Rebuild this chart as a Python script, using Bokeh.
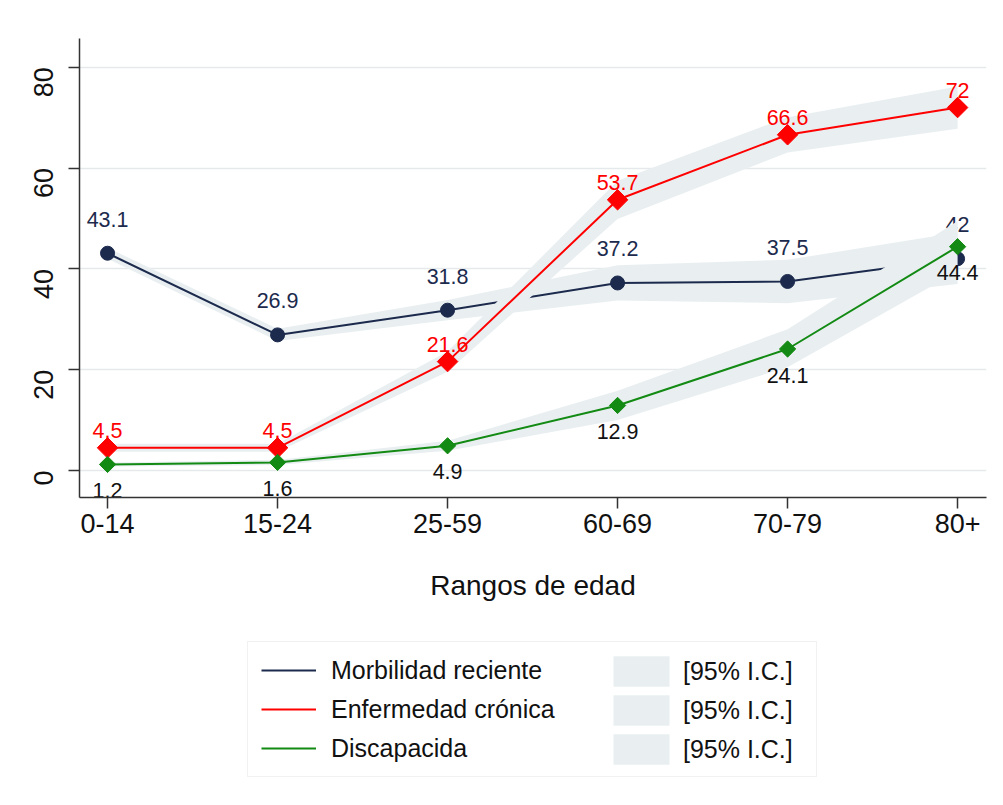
import math

from bokeh.core.properties import value
from bokeh.embed import file_html
from bokeh.layouts import column
from bokeh.models import FixedTicker, Legend, LegendItem, Range1d
from bokeh.plotting import figure
from bokeh.resources import INLINE

# --- data -----------------------------------------------------------------
age_groups = ["0-14", "15-24", "25-59", "60-69", "70-79", "80+"]

morbilidad = [43.1, 26.9, 31.8, 37.2, 37.5, 42]
morbilidad_lo = [42.0, 25.7, 29.8, 33.7, 33.2, 37.0]
morbilidad_hi = [44.2, 28.1, 33.8, 40.7, 41.8, 47.2]

cronica = [4.5, 4.5, 21.6, 53.7, 66.6, 72]
cronica_lo = [3.7, 3.7, 19.6, 49.9, 63.1, 67.8]
cronica_hi = [5.3, 5.3, 23.6, 57.5, 70.1, 76.2]

discapacidad = [1.2, 1.6, 4.9, 12.9, 24.1, 44.4]
discapacidad_lo = [0.8, 1.1, 3.9, 10.0, 20.5, 39.5]
discapacidad_hi = [1.6, 2.1, 5.9, 15.8, 28.0, 49.5]

y_ticks = [0, 20, 40, 60, 80]

series_names = ["Morbilidad reciente", "Enfermedad crónica", "Discapacida"]
ci_label = "[95% I.C.]"
x_title = "Rangos de edad"

# --- style ----------------------------------------------------------------
FONT = "Liberation Sans"
NAVY = "#1c2a4d"
RED = "#ff0000"
GREEN = "#138a13"
BAND = "#e9eff1"
AXIS = "#333333"
TEXT = "#111111"

xs = list(range(len(age_groups)))

p = figure(
    width=1003, height=630,
    x_range=Range1d(-0.165, 5.17), y_range=Range1d(-5.36, 85.7),
    toolbar_location=None, output_backend="svg",
    min_border_left=79, min_border_right=17,
    min_border_top=38, min_border_bottom=133,
)
p.outline_line_color = None
p.background_fill_color = "white"
p.border_fill_color = "white"

p.xgrid.visible = False
p.ygrid.ticker = FixedTicker(ticks=y_ticks)
p.ygrid.grid_line_color = "#e6e9eb"
p.ygrid.grid_line_width = 1.5

p.xaxis.ticker = FixedTicker(ticks=xs)
p.xaxis.major_label_overrides = {i: lab for i, lab in enumerate(age_groups)}
p.yaxis.ticker = FixedTicker(ticks=y_ticks)
p.yaxis.major_label_orientation = math.pi / 2

for ax in (p.xaxis[0], p.yaxis[0]):
    ax.axis_line_color = AXIS
    ax.axis_line_width = 1.5
    ax.major_tick_line_color = AXIS
    ax.major_tick_line_width = 1.5
    ax.major_tick_in = 0
    ax.major_tick_out = 11
    ax.minor_tick_line_color = None
    ax.major_label_text_font = FONT
    ax.major_label_text_font_size = "27px"
    ax.major_label_text_color = TEXT

p.xaxis.major_label_standoff = 5
p.yaxis.major_label_standoff = 25

p.xaxis.axis_label = x_title
p.xaxis.axis_label_text_font = FONT
p.xaxis.axis_label_text_font_size = "28px"
p.xaxis.axis_label_text_font_style = "normal"
p.xaxis.axis_label_text_color = TEXT
p.xaxis.axis_label_standoff = 34

# each series: band, connecting line, markers, value labels
series = [
    dict(vals=morbilidad, lo=morbilidad_lo, hi=morbilidad_hi, color=NAVY,
         marker="circle", size=14, angle=0, label_color=NAVY, offset=-34),
    dict(vals=cronica, lo=cronica_lo, hi=cronica_hi, color=RED,
         marker="square", size=14.5, angle=math.pi / 4, label_color=RED, offset=-17),
    dict(vals=discapacidad, lo=discapacidad_lo, hi=discapacidad_hi, color=GREEN,
         marker="square", size=11.5, angle=math.pi / 4, label_color=TEXT, offset=26),
]

for s in series:
    p.varea(x=xs, y1=s["lo"], y2=s["hi"], fill_color=BAND, fill_alpha=1.0)
    p.line(xs, s["vals"], line_color=s["color"], line_width=2)
    p.scatter(xs, s["vals"], marker=s["marker"], size=s["size"], angle=s["angle"],
              fill_color=s["color"], line_color=s["color"], line_width=1)
    p.text(xs, s["vals"], text=[f"{v:g}" for v in s["vals"]],
           text_font=value(FONT), text_font_size="21.5px",
           text_color=s["label_color"], text_align="center",
           text_baseline="middle", y_offset=s["offset"])

# --- legend panel ---------------------------------------------------------
lf = figure(
    width=1003, height=175,
    x_range=Range1d(0, 1), y_range=Range1d(0, 1),
    x_axis_type=None, y_axis_type=None,
    toolbar_location=None, output_backend="svg", min_border=0,
)
lf.grid.visible = False
lf.outline_line_color = None
lf.background_fill_color = "white"
lf.border_fill_color = "white"

# hidden copies of the series, used only as legend keys
key_lines = [
    lf.line(xs, s["vals"], line_color=s["color"], line_width=2, visible=False)
    for s in series
]
key_bands = [
    lf.varea(x=xs, y1=s["lo"], y2=s["hi"], fill_color=BAND, visible=False)
    for s in series
]

common = dict(
    orientation="vertical", margin=0,
    label_text_font=FONT, label_text_font_size="25px", label_text_color=TEXT,
    label_text_baseline="middle", inactive_fill_alpha=0,
)

# the legend frame shares the main plot's left edge (x = 79 on the page)
leg_lines = Legend(
    items=[LegendItem(label=n, renderers=[r]) for n, r in zip(series_names, key_lines)],
    location=(168, 28), padding=13, spacing=9,
    glyph_width=55, glyph_height=30, label_height=30, label_width=472,
    label_standoff=15,
    border_line_color="#e3e3e3", border_line_width=1,
    background_fill_color="white", background_fill_alpha=1.0,
    **common,
)
leg_bands = Legend(
    items=[LegendItem(label=ci_label, renderers=[r]) for r in key_bands],
    location=(527, 37), padding=0, spacing=1,
    glyph_width=70, glyph_height=38, label_height=38,
    label_standoff=7,
    border_line_color=None, background_fill_alpha=0,
    **common,
)
lf.add_layout(leg_lines)
lf.add_layout(leg_bands)

layout = column(p, lf, spacing=0)

with open("out.html", "w") as f:
    f.write(file_html(layout, INLINE))
